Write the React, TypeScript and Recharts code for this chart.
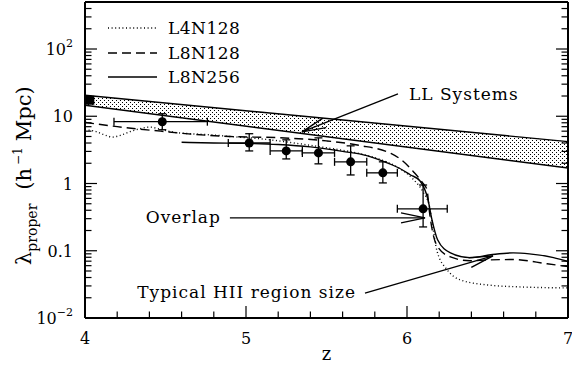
// Mean free path vs redshift: three simulation runs, LL systems band and measured points.

import React from 'react';
import {
  ComposedChart,
  Line,
  Area,
  Scatter,
  ErrorBar,
  XAxis,
  YAxis,
  Legend,
  ReferenceLine,
} from 'recharts';

const FONT = '"DejaVu Serif", serif';

// L4N128 (dotted)
const l4n128Z = [4.0, 4.06, 4.12, 4.17, 4.22, 4.28, 4.35, 4.4, 4.47, 4.55, 4.65, 4.78, 4.9, 5.1, 5.3, 5.5, 5.7, 5.85, 5.95, 6.04, 6.1, 6.14, 6.16, 6.186, 6.25, 6.33, 6.5, 6.7, 7.0];
const l4n128V = [6.3, 6.0, 5.3, 4.9, 5.2, 5.9, 6.6, 6.9, 6.4, 5.8, 5.5, 5.3, 5.0, 4.6, 4.0, 3.4, 2.8, 2.2, 1.7, 1.15, 0.75, 0.45, 0.23, 0.1, 0.052, 0.037, 0.031, 0.029, 0.028];

// L8N128 (dashed)
const l8n128Z = [4.0, 4.2, 4.47, 4.67, 4.9, 5.2, 5.5, 5.7, 5.9, 5.97, 6.04, 6.1, 6.124, 6.14, 6.16, 6.19, 6.27, 6.39, 6.5, 6.66, 6.87, 7.0];
const l8n128V = [8.1, 7.0, 6.0, 5.4, 5.0, 4.8, 4.3, 3.7, 2.8, 2.2, 1.5, 1.0, 0.81, 0.37, 0.186, 0.115, 0.081, 0.071, 0.073, 0.074, 0.064, 0.058];

// L8N256 (solid)
const l8n256Z = [4.6, 4.8, 5.0, 5.2, 5.4, 5.6, 5.75, 5.85, 5.95, 6.02, 6.08, 6.13, 6.155, 6.19, 6.27, 6.39, 6.52, 6.66, 6.76, 6.91, 7.0];
const l8n256V = [4.1, 4.0, 3.95, 3.8, 3.5, 3.0, 2.6, 2.15, 1.7, 1.35, 1.1, 0.58, 0.29, 0.146, 0.093, 0.079, 0.087, 0.093, 0.09, 0.079, 0.069];

// LL systems band (lower / upper edge)
const bandZ = [4.0, 7.0];
const bandLow = [14.6, 1.7];
const bandHigh = [20.5, 4.2];

// measured points with error bars
const obsZ = [4.48, 5.02, 5.25, 5.45, 5.65, 5.85, 6.1];
const obsZLow = [4.18, 4.89, 5.15, 5.35, 5.55, 5.75, 5.94];
const obsZHigh = [4.76, 5.15, 5.35, 5.55, 5.75, 5.94, 6.25];
const obsV = [8.3, 4.0, 3.05, 2.85, 2.1, 1.44, 0.42];
const obsVLow = [6.3, 3.05, 2.32, 1.96, 1.34, 1.02, 0.226];
const obsVHigh = [10.9, 5.5, 4.46, 4.77, 3.63, 2.1, 0.95];

// square marker at z = 4
const squareZ = [4.03];
const squareV = [17.3];

const seriesNames = ['L4N128', 'L8N128', 'L8N256'];
const seriesDash = ['1 2.6', '9 5', undefined];

const xTicks = [4, 4.2, 4.4, 4.6, 4.8, 5, 5.2, 5.4, 5.6, 5.8, 6, 6.2, 6.4, 6.6, 6.8, 7];
const yDecades = [0.01, 0.1, 1, 10, 100];
const yTickLabels: Record<string, string[]> = {
  '0.01': ['10', '−2'],
  '0.1': ['0.1'],
  '1': ['1'],
  '10': ['10'],
  '100': ['10', '2'],
};
const yTicks = yDecades
  .flatMap((d) => [1, 2, 3, 4, 5, 6, 7, 8, 9].map((m) => d * m))
  .filter((v) => v <= 500);

const annotations = [
  { text: 'LL Systems', from: { x: 5.944, y: 21.5 }, to: { x: 5.348, y: 5.86 } },
  { text: 'Overlap', from: { x: 4.9, y: 0.308 }, to: { x: 6.112, y: 0.308 } },
  { text: 'Typical HII region size', from: { x: 5.739, y: 0.0235 }, to: { x: 6.534, y: 0.0838 } },
];
const annotationText: Record<string, { dx: number; dy: number; anchor: 'start' | 'end' }> = {
  'LL Systems': { dx: 11, dy: 6, anchor: 'start' },
  Overlap: { dx: -9, dy: 5, anchor: 'end' },
  'Typical HII region size': { dx: -9, dy: 5, anchor: 'end' },
};

const zip = (z: number[], v: number[]) => z.map((x, i) => ({ z: x, v: v[i] }));
const l4n128Data = zip(l4n128Z, l4n128V);
const l8n128Data = zip(l8n128Z, l8n128V);
const l8n256Data = zip(l8n256Z, l8n256V);
const bandData = bandZ.map((z, i) => ({ z, band: [bandLow[i], bandHigh[i]] }));
const obsData = obsZ.map((z, i) => ({
  z,
  v: obsV[i],
  ex: [z - obsZLow[i], obsZHigh[i] - z],
  ey: [obsV[i] - obsVLow[i], obsVHigh[i] - obsV[i]],
}));
const squareData = zip(squareZ, squareV);

const MAJOR = 12;
const MINOR = 6.5;
const TICK_W = 1.2;
const isDecade = (v: number) => Math.abs(Math.log10(v) - Math.round(Math.log10(v))) < 1e-6;
const isInt = (v: number) => Math.abs(v - Math.round(v)) < 1e-6;

function BottomTick({ x, y, payload }: any) {
  const major = isInt(payload.value);
  return (
    <g>
      <line x1={x} x2={x} y1={y} y2={y - (major ? MAJOR : MINOR)} stroke="#000" strokeWidth={TICK_W} />
      {major && (
        <text x={x} y={y + 26} textAnchor="middle" fontFamily={FONT} fontSize={16} fill="#000">
          {Math.round(payload.value)}
        </text>
      )}
    </g>
  );
}

function TopTick({ x, y, payload }: any) {
  const major = isInt(payload.value);
  return <line x1={x} x2={x} y1={y} y2={y + (major ? MAJOR : MINOR)} stroke="#000" strokeWidth={TICK_W} />;
}

function LeftTick({ x, y, payload }: any) {
  const major = isDecade(payload.value);
  const parts = major ? yTickLabels[String(payload.value)] : null;
  return (
    <g>
      <line x1={x} x2={x + (major ? MAJOR : MINOR)} y1={y} y2={y} stroke="#000" strokeWidth={TICK_W} />
      {parts && (
        <text x={x - 12} y={y + 6} textAnchor="end" fontFamily={FONT} fontSize={16} fill="#000">
          {parts[0]}
          {parts[1] && (
            <tspan fontSize={11} dy={-8}>
              {parts[1]}
            </tspan>
          )}
        </text>
      )}
    </g>
  );
}

function RightTick({ x, y, payload }: any) {
  const major = isDecade(payload.value);
  return <line x1={x} x2={x - (major ? MAJOR : MINOR)} y1={y} y2={y} stroke="#000" strokeWidth={TICK_W} />;
}

function YLabel({ viewBox }: any) {
  const x = viewBox.x + 31;
  const y = viewBox.y + 263;
  return (
    <text x={x} y={y} transform={`rotate(-90 ${x} ${y})`} fontFamily={FONT} fontSize={21} fill="#000">
      λ
      <tspan fontSize={14} dy={6}>
        proper
      </tspan>
      <tspan dy={-6} dx={14}>
        (h
      </tspan>
      <tspan fontSize={12} dy={-9} dx={3}>
        −1
      </tspan>
      <tspan dy={9} dx={6}>
        Mpc)
      </tspan>
    </text>
  );
}

function XLabel({ viewBox }: any) {
  return (
    <text x={viewBox.x + viewBox.width / 2} y={viewBox.y + 42} textAnchor="middle" fontFamily={FONT} fontSize={18} fill="#000">
      z
    </text>
  );
}

function ArrowShape(props: any) {
  const { x1, y1, x2, y2, text } = props;
  const t = annotationText[text];
  return (
    <g>
      <line x1={x1} y1={y1} x2={x2} y2={y2} stroke="#000" strokeWidth={1.3} markerEnd="url(#openArrow)" />
      <text x={x1 + t.dx} y={y1 + t.dy} textAnchor={t.anchor} fontFamily={FONT} fontSize={17} letterSpacing={1} fill="#000">
        {text}
      </text>
    </g>
  );
}

function LegendContent({ payload }: any) {
  const items = (payload || []).filter((entry: any) => seriesNames.includes(entry.value));
  return (
    <div style={{ fontFamily: FONT, fontSize: 17, color: '#000', letterSpacing: 0.5 }}>
      {items.map((entry: any) => (
        <div key={entry.value} style={{ display: 'flex', alignItems: 'center', height: 24.5 }}>
          <svg width={50} height={10}>
            <line x1={0} x2={49} y1={5} y2={5} stroke="#000" strokeWidth={1.4} strokeDasharray={entry.payload?.strokeDasharray} />
          </svg>
          <span style={{ marginLeft: 10 }}>{entry.value}</span>
        </div>
      ))}
    </div>
  );
}

const lineSets = [l4n128Data, l8n128Data, l8n256Data];

export default function App() {
  return (
    <div style={{ position: 'absolute', left: 0, top: 0, background: '#fff' }}>
      <ComposedChart width={572} height={370} margin={{ top: 2, right: 4, bottom: 0, left: 0 }}>
        <defs>
          <pattern id="stipple" width={4} height={4} patternUnits="userSpaceOnUse">
            <rect x={0} y={0} width={1} height={1} fill="#000" />
            <rect x={2} y={2} width={1} height={1} fill="#000" />
          </pattern>
          <marker id="openArrow" viewBox="0 0 26 12" refX={25} refY={6} markerWidth={26} markerHeight={12} markerUnits="userSpaceOnUse" orient="auto">
            <path d="M1,1 L25,6 L1,11" fill="none" stroke="#000" strokeWidth={1.4} />
          </marker>
        </defs>
        <XAxis
          xAxisId="b"
          dataKey="z"
          type="number"
          domain={[4, 7]}
          allowDataOverflow
          ticks={xTicks}
          interval={0}
          height={52}
          tickSize={0}
          tickMargin={0}
          tickLine={false}
          axisLine={{ stroke: '#000', strokeWidth: 2 }}
          tick={<BottomTick />}
          label={<XLabel />}
        />
        <XAxis
          xAxisId="t"
          orientation="top"
          mirror
          type="number"
          domain={[4, 7]}
          allowDataOverflow
          ticks={xTicks}
          interval={0}
          tickSize={0}
          tickMargin={0}
          tickLine={false}
          axisLine={{ stroke: '#000', strokeWidth: 2 }}
          tick={<TopTick />}
        />
        <YAxis
          yAxisId="l"
          dataKey="v"
          type="number"
          scale="log"
          domain={[0.01, 500]}
          allowDataOverflow
          ticks={yTicks}
          interval={0}
          width={85}
          tickSize={0}
          tickMargin={0}
          tickLine={false}
          axisLine={{ stroke: '#000', strokeWidth: 2 }}
          tick={<LeftTick />}
          label={<YLabel />}
        />
        <YAxis
          yAxisId="r"
          orientation="right"
          mirror
          type="number"
          scale="log"
          domain={[0.01, 500]}
          allowDataOverflow
          ticks={yTicks}
          interval={0}
          tickSize={0}
          tickMargin={0}
          tickLine={false}
          axisLine={{ stroke: '#000', strokeWidth: 2 }}
          tick={<RightTick />}
        />
        <Legend
          layout="vertical"
          align="center"
          verticalAlign="middle"
          wrapperStyle={{ top: 16, left: 108, width: 160 }}
          content={<LegendContent />}
        />
        <Area
          xAxisId="b"
          yAxisId="l"
          data={bandData}
          dataKey="band"
          type="linear"
          stroke="#000"
          strokeWidth={1.4}
          fill="url(#stipple)"
          fillOpacity={1}
          legendType="none"
          isAnimationActive={false}
        />
        {seriesNames.map((name, i) => (
          <Line
            key={name}
            xAxisId="b"
            yAxisId="l"
            data={lineSets[i]}
            dataKey="v"
            name={name}
            type="monotone"
            stroke="#000"
            strokeWidth={1.4}
            strokeDasharray={seriesDash[i]}
            dot={false}
            activeDot={false}
            isAnimationActive={false}
          />
        ))}
        <Scatter
          xAxisId="b"
          yAxisId="l"
          data={obsData}
          dataKey="v"
          legendType="none"
          isAnimationActive={false}
          shape={(p: any) => <circle cx={p.cx} cy={p.cy} r={4.5} fill="#000" />}
        >
          <ErrorBar dataKey="ex" direction="x" width={4} stroke="#000" strokeWidth={1.3} isAnimationActive={false} />
          <ErrorBar dataKey="ey" direction="y" width={4} stroke="#000" strokeWidth={1.3} isAnimationActive={false} />
        </Scatter>
        <Scatter
          xAxisId="b"
          yAxisId="l"
          data={squareData}
          dataKey="v"
          legendType="none"
          isAnimationActive={false}
          shape={(p: any) => <rect x={p.cx - 4.5} y={p.cy - 4.5} width={9} height={9} fill="#000" />}
        />
        {annotations.map((a) => (
          <ReferenceLine
            key={a.text}
            xAxisId="b"
            yAxisId="l"
            segment={[a.from, a.to]}
            ifOverflow="visible"
            shape={(p: any) => <ArrowShape {...p} text={a.text} />}
          />
        ))}
      </ComposedChart>
    </div>
  );
}
